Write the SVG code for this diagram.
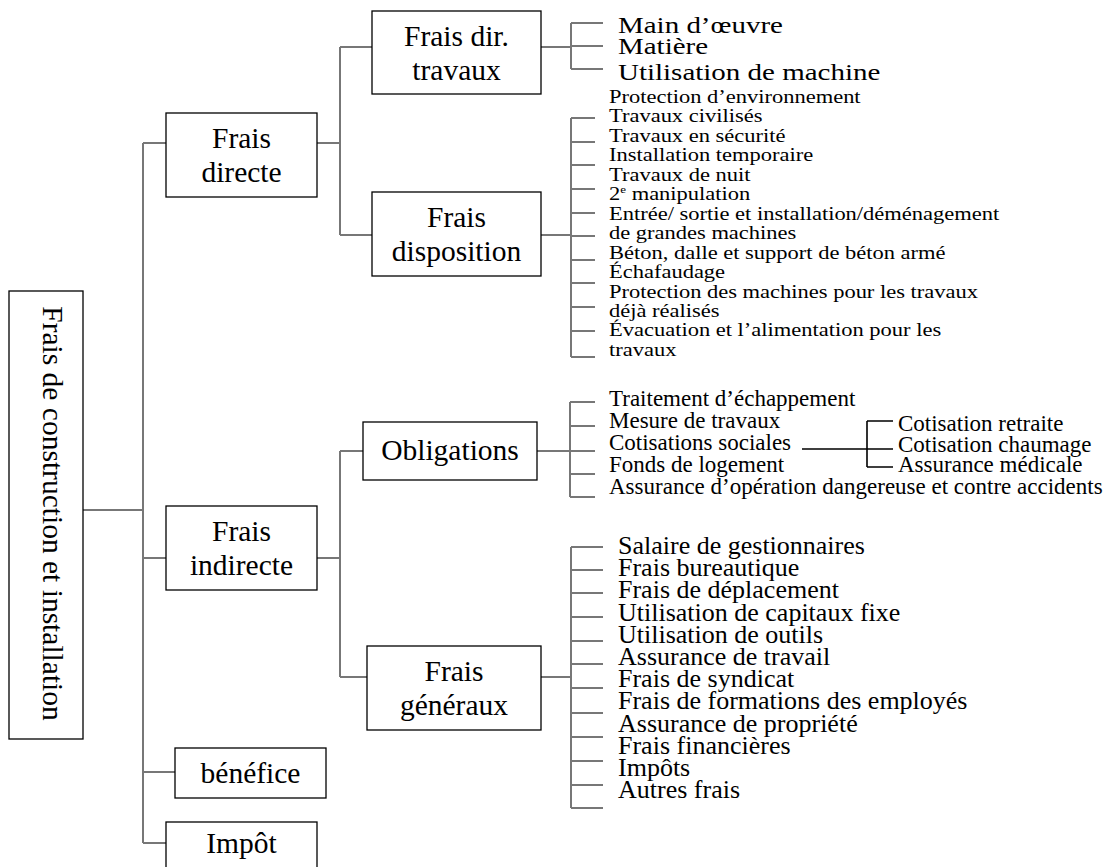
<svg xmlns="http://www.w3.org/2000/svg" width="1117" height="867" viewBox="0 0 1117 867">
<style>
.box{fill:#fff;stroke:#000;stroke-width:1.3}
.lbl{font-family:"Liberation Serif","Times New Roman",serif;font-size:29.5px;fill:#000;text-anchor:middle}
.it{font-family:"Liberation Serif","Times New Roman",serif;fill:#000}
.con{stroke:#777;stroke-width:2;fill:none}
.con2{stroke:#000;stroke-width:1.6;fill:none}
</style>
<rect width="1117" height="867" fill="#fff"/>
<g id="connectors">
<path class="con" d="M83,510H143M143,143V843M143,143H166M143,558H166M143,772H175M143,843H166"/>
<path class="con" d="M317,143H340M340,47V235M340,47H372M340,235H372"/>
<path class="con" d="M541,47H571M571,23V69M571,23H603M571,46H603M571,69H603"/>
<path class="con" d="M541,235H571M571,118V357M571,118H595M571,142H595M571,165H595M571,189H595M571,213H595M571,236H595M571,260H595M571,283H595M571,307H595M571,331H595M571,357H595"/>
<path class="con" d="M317,558H340M340,451V677M340,451H363M340,677H367"/>
<path class="con" d="M537,451H570M570,402V497M570,402H595M570,426H595M570,451H595M570,474H595M570,497H595"/>
<path class="con" d="M541,677H571M571,547V808M571,547H603M571,570H603M571,593H603M571,617H603M571,641H603M571,664H603M571,688H603M571,713H603M571,737H603M571,761H603M571,785H603M571,808H603"/>
<path class="con2" d="M802,449H893M867,421V467M867,421H893M867,467H893"/>
</g>
<g id="root">
<rect class="box" x="9" y="291" width="74" height="448"/>
<text class="lbl" font-size="30.5" transform="translate(43,513.5) rotate(90)" x="0" y="0">Frais de construction et installation</text>
</g>
<g id="frais-directe">
<rect class="box" x="166" y="113" width="151" height="84"/>
<text class="lbl" x="241.5" y="148">Frais</text>
<text class="lbl" x="241.5" y="182">directe</text>
</g>
<g id="frais-dir-travaux">
<rect class="box" x="372" y="11" width="169" height="83"/>
<text class="lbl" x="456.5" y="46">Frais dir.</text>
<text class="lbl" x="456.5" y="80">travaux</text>
</g>
<g id="frais-disposition">
<rect class="box" x="372" y="192" width="169" height="84"/>
<text class="lbl" x="456.5" y="227">Frais</text>
<text class="lbl" x="456.5" y="261">disposition</text>
</g>
<g id="frais-indirecte">
<rect class="box" x="166" y="506" width="151" height="84"/>
<text class="lbl" x="241.5" y="541">Frais</text>
<text class="lbl" x="241.5" y="575">indirecte</text>
</g>
<g id="obligations">
<rect class="box" x="363" y="422" width="174" height="58"/>
<text class="lbl" x="450" y="460">Obligations</text>
</g>
<g id="frais-generaux">
<rect class="box" x="367" y="646" width="174" height="84"/>
<text class="lbl" x="454" y="681">Frais</text>
<text class="lbl" x="454" y="715">généraux</text>
</g>
<g id="benefice">
<rect class="box" x="175" y="748" width="151" height="50"/>
<text class="lbl" x="250.5" y="783">bénéfice</text>
</g>
<g id="impot">
<rect class="box" x="166" y="822" width="151" height="60"/>
<text class="lbl" x="241.5" y="853">Impôt</text>
</g>
<g id="items-dir-travaux" class="it" font-size="29" transform="matrix(1,0,0,0.83,0,0)">
<text x="618" y="39.8">Main d’œuvre</text>
<text x="618" y="64.5">Matière</text>
<text x="618" y="96.4">Utilisation de machine</text>
</g>
<g id="items-disposition" class="it" font-size="22.5" transform="matrix(1,0,0,0.8,0,0)">
<text x="609" y="128.75">Protection d’environnement</text>
<text x="609" y="153.06">Travaux civilisés</text>
<text x="609" y="177.38">Travaux en sécurité</text>
<text x="609" y="201.69">Installation temporaire</text>
<text x="609" y="226">Travaux de nuit</text>
<text x="609" y="250.31">2<tspan font-size="13" dy="-9">e</tspan><tspan dy="9"> manipulation</tspan></text>
<text x="609" y="274.63">Entrée/ sortie et installation/déménagement</text>
<text x="609" y="298.94">de grandes machines</text>
<text x="609" y="323.25">Béton, dalle et support de béton armé</text>
<text x="609" y="347.56">Échafaudage</text>
<text x="609" y="371.88">Protection des machines pour les travaux</text>
<text x="609" y="396.19">déjà réalisés</text>
<text x="609" y="420.5">Évacuation et l’alimentation pour les</text>
<text x="609" y="444.81">travaux</text>
</g>
<g id="items-obligations" class="it" font-size="23">
<text x="609" y="406">Traitement d’échappement</text>
<text x="609" y="428">Mesure de travaux</text>
<text x="609" y="450">Cotisations sociales</text>
<text x="609" y="472">Fonds de logement</text>
<text x="609" y="494">Assurance d’opération dangereuse et contre accidents</text>
</g>
<g id="items-cotisations" class="it" font-size="23">
<text x="898" y="431">Cotisation retraite</text>
<text x="898" y="452">Cotisation chaumage</text>
<text x="898" y="472">Assurance médicale</text>
</g>
<g id="items-generaux" class="it" font-size="26">
<text x="618" y="554">Salaire de gestionnaires</text>
<text x="618" y="576.2">Frais bureautique</text>
<text x="618" y="598.4">Frais de déplacement</text>
<text x="618" y="620.6">Utilisation de capitaux fixe</text>
<text x="618" y="642.8">Utilisation de outils</text>
<text x="618" y="665">Assurance de travail</text>
<text x="618" y="687.2">Frais de syndicat</text>
<text x="618" y="709.4">Frais de formations des employés</text>
<text x="618" y="731.6">Assurance de propriété</text>
<text x="618" y="753.8">Frais financières</text>
<text x="618" y="776">Impôts</text>
<text x="618" y="798.2">Autres frais</text>
</g>
</svg>
